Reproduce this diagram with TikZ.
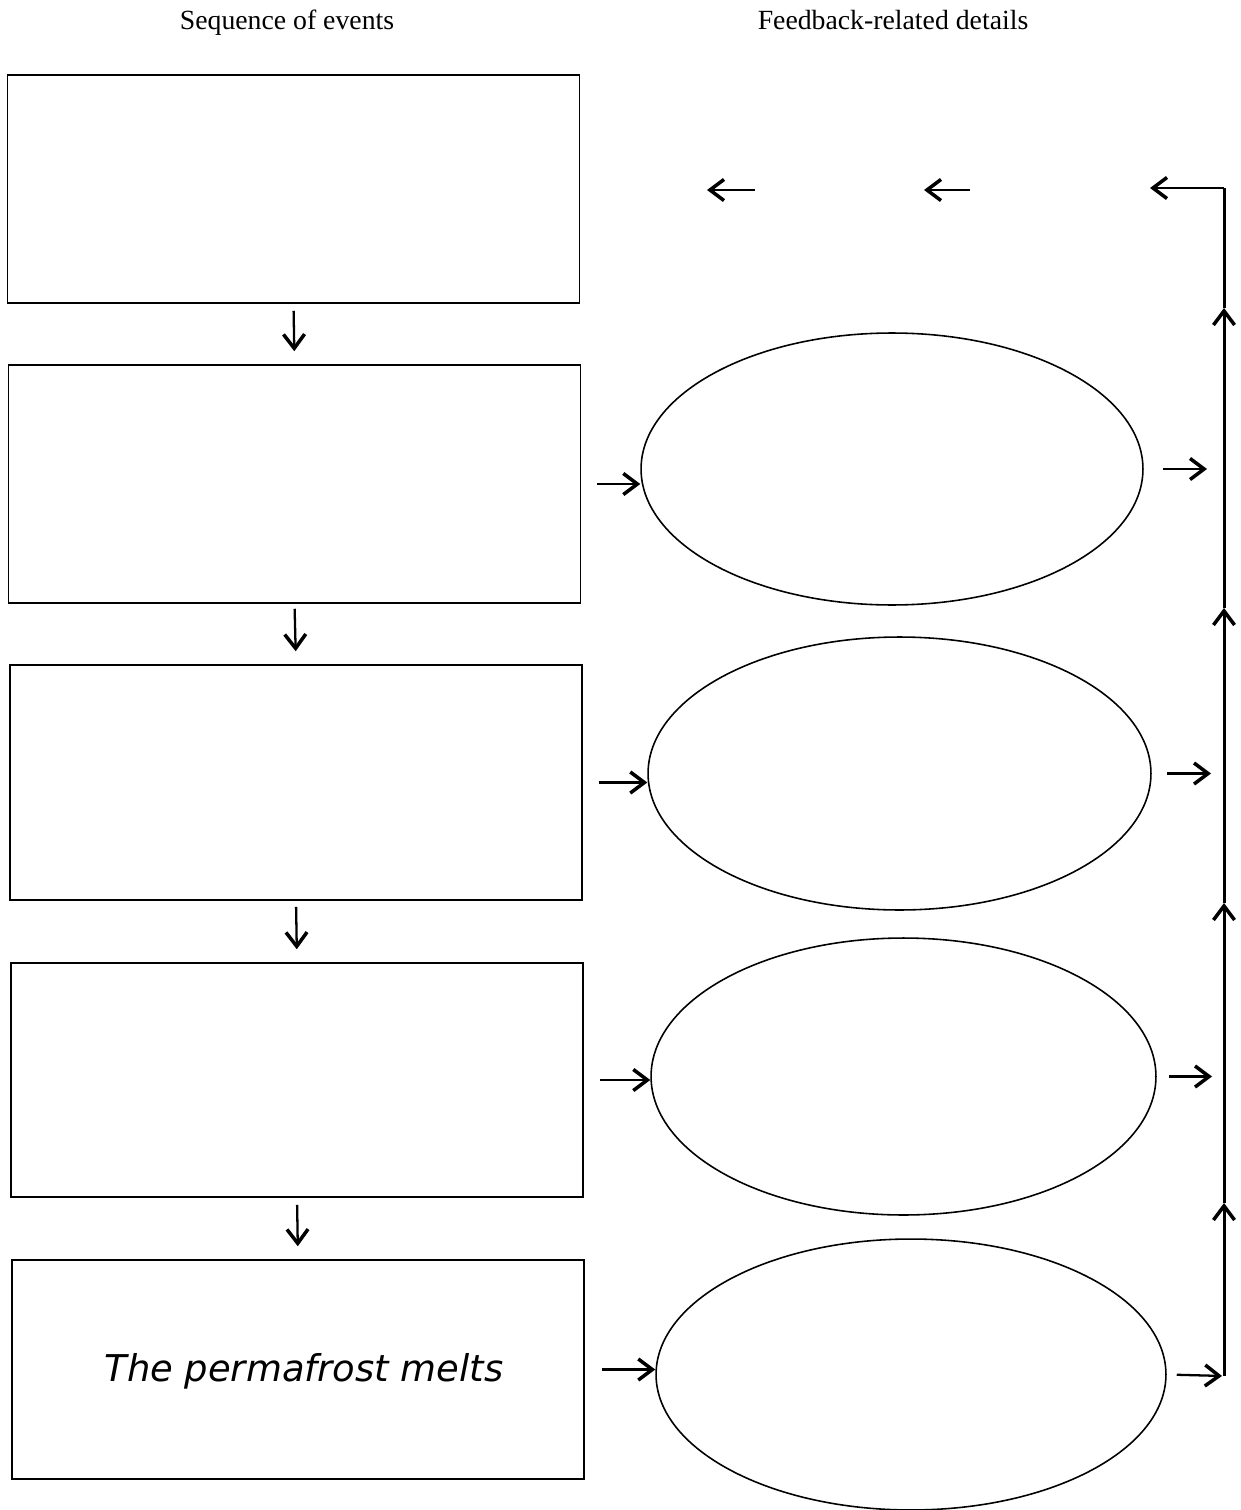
\documentclass[tikz,border=0pt]{standalone}
\usepackage{fontspec}
\setmainfont{Liberation Serif}
\newfontfamily\handfont{DejaVu Sans}
\usetikzlibrary{shapes.geometric}
\usetikzlibrary{arrows.meta}
\usetikzlibrary{positioning}

\begin{document}
\begin{tikzpicture}[x=0.02cm, y=-0.02cm, line width=0.9pt,
    eventbox/.style={draw, rectangle, inner sep=0pt, minimum width=11.45cm},
    oval/.style={draw, ellipse, inner sep=0pt},
    arr/.style={-{Straight Barb[length=8pt, width=12pt, line width=2pt]}, line width=1.3pt},
    title/.style={font=\fontsize{15.8}{19}\selectfont, anchor=base}]
    % page frame
    \useasboundingbox (0, 0) rectangle (1240, 1510);

    % draw column titles
    \node[title] (seqtitle) at (287, 30) {Sequence of events};
    \node[title] (feedtitle) at (893, 30) {Feedback-related details};

    % draw event boxes
    \node[eventbox, minimum height=4.56cm] (b1) at (293.5, 189) {};
    \node[eventbox, minimum height=4.76cm] (b2) at (294.5, 484) {};
    \node[eventbox, minimum height=4.70cm] (b3) at (296, 782.5) {};
    \node[eventbox, minimum height=4.68cm] (b4) at (297, 1080) {};
    \node[eventbox, minimum height=4.38cm] (b5) at (298, 1369.5) {};
    \node[font=\handfont\itshape\fontsize{21}{25}\selectfont] (melt) at (304, 1371) {The permafrost melts};

    % draw feedback ellipses
    \node[oval, minimum width=10.04cm, minimum height=5.44cm] (e1) at (892, 469) {};
    \node[oval, minimum width=10.06cm, minimum height=5.46cm] (e2) at (899.5, 773.5) {};
    \node[oval, minimum width=10.10cm, minimum height=5.54cm] (e3) at (903.5, 1076.5) {};
    \node[oval, minimum width=10.20cm, minimum height=5.42cm] (e4) at (911, 1374.5) {};

    % draw arrows between event boxes
    \draw[arr, shorten <=0.14cm, shorten >=0.26cm] (b1.south) -- (b2.north);
    \draw[arr, shorten <=0.10cm, shorten >=0.26cm] (b2.south) -- (b3.north);
    \draw[arr, shorten <=0.12cm, shorten >=0.26cm] (b3.south) -- (b4.north);
    \draw[arr, shorten <=0.14cm, shorten >=0.26cm] (b4.south) -- (b5.north);

    % draw arrows from boxes into ellipses
    \draw[arr, shorten <=0.32cm] (b2.east) -- (b2.east -| e1.west);
    \draw[arr, shorten <=0.32cm] (b3.east) -- (b3.east -| e2.west);
    \draw[arr, shorten <=0.32cm] (b4.east) -- (b4.east -| e3.west);
    \draw[arr, shorten <=0.34cm] (b5.east) -- (b5.east -| e4.west);

    % draw return line
    \coordinate (railtop) at (1224, 188);
    \coordinate (railbot) at (1224, 1376);
    \coordinate (up1) at (1224, 308);
    \coordinate (up2) at (1224, 608);
    \coordinate (up3) at (1224, 903);
    \coordinate (up4) at (1224, 1203);
    \draw[arr, line width=1.7pt] (railbot) -- (up4);
    \draw[arr, line width=1.7pt] (up4) -- (up3);
    \draw[arr, line width=1.7pt] (up3) -- (up2);
    \draw[arr, line width=1.7pt] (up2) -- (up1);
    \draw[line width=1.7pt] (up1) -- (railtop);

    % draw arrows from ellipses onto the return line
    \draw[arr, shorten <=0.38cm, shorten >=0.34cm] (e1.east) -- (e1.east -| railtop);
    \draw[arr, shorten <=0.30cm, shorten >=0.26cm] (e2.east) -- (e2.east -| railtop);
    \draw[arr, shorten <=0.24cm, shorten >=0.24cm] (e3.east) -- (e3.east -| railtop);
    \draw[arr, shorten <=0.20cm, shorten >=0.04cm] (e4.east) -- (railbot);

    % draw top arrows
    \coordinate (topa) at (1150, 188);
    \coordinate (topb) at (970, 190);
    \coordinate (topbend) at (924, 190);
    \coordinate (topc) at (755, 190);
    \coordinate (topcend) at (707, 190);
    \draw[arr, line width=1pt] (railtop) -- (topa);
    \draw[arr] (topb) -- (topbend);
    \draw[arr] (topc) -- (topcend);
\end{tikzpicture}
\end{document}
